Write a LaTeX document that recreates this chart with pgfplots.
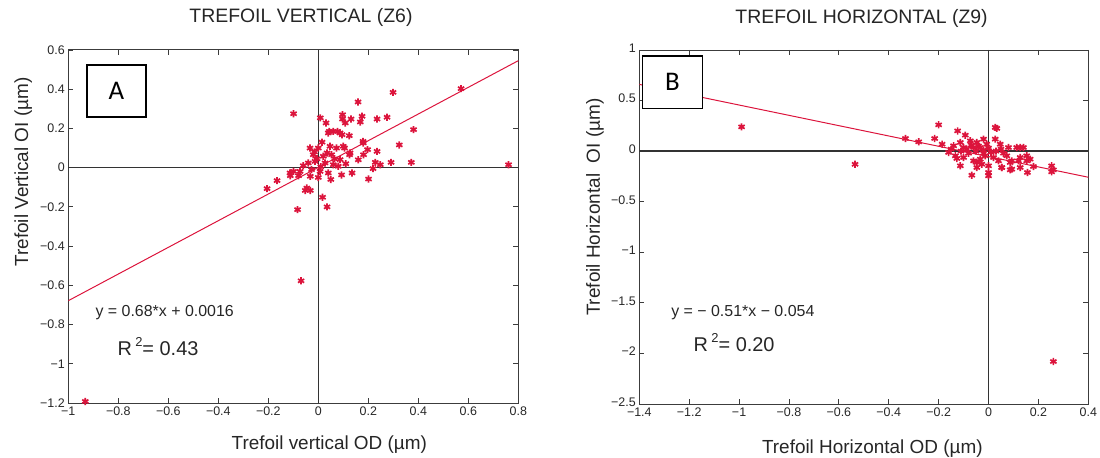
\documentclass[border=0pt]{standalone}
\usepackage{fontspec}
\setmainfont{Liberation Sans}
\newfontfamily\carlito{Carlito}
\usepackage{pgfplots}
\pgfplotsset{compat=1.18}
\definecolor{ptred}{RGB}{220,20,60}
\definecolor{axgray}{RGB}{60,60,60}
\pgfplotsset{
  mystyle/.style={
    scale only axis,
    axis line style={axgray, line width=1pt},
    tick align=inside,
    major tick length=5bp,
    tick style={axgray, line width=0.8pt},
    tick pos=both,
    ticklabel style={font=\fontsize{12.5}{12.5}\selectfont, text=black!85},
    label style={font=\fontsize{19}{19}\selectfont, text=black!85},
    title style={font=\fontsize{19.5}{19.5}\selectfont, text=black!85, yshift=0pt, anchor=center},
    /pgf/number format/assume math mode=true,
    clip=true,
  },
  scat/.style={only marks, mark=asterisk, mark size=3.6bp, ptred, line width=1.7pt},
  zero/.style={black!80, line width=1.4pt, forget plot},
  reg/.style={ptred, line width=1pt, no marks},
}
\begin{document}
\begin{tikzpicture}
\useasboundingbox (0,0) rectangle (1100bp,458bp);
% ---------------- Panel A ----------------
\begin{axis}[mystyle,
  at={(68.3bp,55bp)}, anchor=south west,
  width=450bp, height=353bp,
  xmin=-1, xmax=0.8, ymin=-1.2, ymax=0.6,
  xtick={-1,-0.8,-0.6,-0.4,-0.2,0,0.2,0.4,0.6,0.8},
  xticklabels={−1,−0.8,−0.6,−0.4,−0.2,0,0.2,0.4,0.6,0.8},
  ytick={-1.2,-1,-0.8,-0.6,-0.4,-0.2,0,0.2,0.4,0.6},
  yticklabels={−1.2,−1,−0.8,−0.6,−0.4,−0.2,0,0.2,0.4,0.6},
  title={TREFOIL VERTICAL (Z6)},
  title style={at={(axis description cs:0.517,1.074)}},
  xlabel={Trefoil vertical OD (\textmu m)},
  xlabel style={at={(axis description cs:0.58,-0.119)}, anchor=center},
  ylabel={Trefoil Vertical OI (\textmu m)},
  ylabel style={at={(axis description cs:-0.1,0.654)}, anchor=center, rotate=0},
]
\addplot[zero] coordinates {(-1,0) (0.8,0)};
\addplot[zero] coordinates {(0,-1.2) (0,0.6)};
\addplot[reg] coordinates {(-1,-0.6784) (0.8,0.5456)};
\addplot[scat] table {
x y
-0.099 0.275
0.299 0.384
0.571 0.403
0.159 0.335
0.008 0.254
0.031 0.228
0.097 0.270
0.097 0.248
0.108 0.228
0.131 0.248
0.175 0.262
0.168 0.233
0.235 0.248
0.275 0.257
0.044 0.185
0.077 0.185
0.095 0.168
0.124 0.163
0.381 0.194
0.179 0.134
0.324 0.116
0.197 0.092
0.235 0.083
0.181 0.066
0.125 0.066
0.105 0.100
0.228 0.027
0.248 0.015
0.291 0.027
0.372 0.027
0.761 0.015
0.219 -0.005
0.201 -0.058
-0.099 -0.019
-0.079 -0.041
-0.112 -0.041
-0.165 -0.066
-0.205 -0.107
-0.052 -0.116
-0.032 -0.116
0.017 -0.151
0.035 -0.200
-0.083 -0.214
-0.032 -0.044
0.000 -0.050
-0.932 -1.192
-0.069 -0.577
0.040 0.177
0.060 0.185
0.087 0.177
0.180 0.126
-0.033 0.100
0.000 0.100
0.047 0.109
0.073 0.100
0.100 0.109
-0.020 0.066
0.020 0.058
0.053 0.066
0.087 0.041
0.127 0.075
-0.040 0.024
-0.013 0.032
0.027 0.024
0.060 0.015
0.080 0.007
-0.027 -0.010
0.007 -0.019
0.040 -0.027
0.093 -0.037
0.135 -0.027
-0.073 -0.019
-0.113 -0.027
-0.046 -0.104
0.010 0.005
-0.005 0.045
0.035 0.075
0.065 0.045
0.110 0.020
-0.015 0.080
0.015 0.130
0.160 0.040
-0.060 0.010
0.050 -0.060
};
\node[anchor=west, font=\fontsize{16}{16}\selectfont, text=black!85] at (axis cs:-0.905,-0.741) {y = 0.68*x + 0.0016};
\node[anchor=west, font=\fontsize{20}{20}\selectfont, text=black!85] at (axis cs:-0.817,-0.912) {R\,\raisebox{0.45em}{\fontsize{13}{13}\selectfont 2}= 0.43};
\node[draw=black, line width=1.3pt, fill=white, minimum width=59bp, minimum height=52bp, inner sep=0pt, font=\carlito\fontsize{27}{27}\selectfont] at (axis description cs:0.107,0.884) {A};
\end{axis}
% ---------------- Panel B ----------------
\begin{axis}[mystyle,
  at={(639.3bp,54bp)}, anchor=south west,
  width=449bp, height=354bp,
  xmin=-1.4, xmax=0.4, ymin=-2.5, ymax=1,
  xtick={-1.4,-1.2,-1,-0.8,-0.6,-0.4,-0.2,0,0.2,0.4},
  xticklabels={−1.4,−1.2,−1,−0.8,−0.6,−0.4,−0.2,0,0.2,0.4},
  ytick={-2.5,-2,-1.5,-1,-0.5,0,0.5,1},
  yticklabels={−2.5,−2,−1.5,−1,−0.5,0,0.5,1},
  title={TREFOIL HORIZONTAL (Z9)},
  title style={at={(axis description cs:0.495,1.073)}},
  xlabel={Trefoil Horizontal OD (\textmu m)},
  xlabel style={at={(axis description cs:0.519,-0.125)}, anchor=center},
  ylabel={Trefoil Horizontal\ \ OI (\textmu m)},
  ylabel style={at={(axis description cs:-0.099,0.556)}, anchor=center, rotate=0},
  yticklabel style={yshift=2bp},
]
\addplot[zero] coordinates {(-1.4,0) (0.4,0)};
\addplot[zero] coordinates {(0,-2.5) (0,1)};
\addplot[reg] coordinates {(-1.4,0.660) (0.4,-0.258)};
\addplot[scat] table {
x y
-0.990 0.240
-0.535 -0.130
0.260 -2.080
-0.333 0.125
-0.280 0.092
-0.216 0.125
-0.200 0.260
-0.124 0.200
-0.093 0.158
-0.186 0.069
0.027 0.235
0.033 0.225
0.127 0.036
0.153 -0.046
0.167 -0.079
0.087 -0.112
0.120 -0.096
0.180 -0.152
0.253 -0.145
0.260 -0.185
0.253 -0.205
0.156 -0.211
0.087 -0.185
0.053 -0.162
0.000 -0.244
0.000 -0.211
-0.067 -0.238
-0.113 -0.145
-0.127 -0.073
-0.027 -0.129
-0.047 -0.112
-0.160 -0.013
-0.113 0.086
-0.140 0.053
-0.073 0.102
-0.047 0.086
-0.020 0.119
-0.007 0.069
-0.033 0.036
-0.060 0.036
-0.087 0.020
-0.100 0.036
0.027 0.119
0.047 0.069
0.080 0.036
0.113 0.036
0.140 0.036
-0.133 -0.046
-0.100 -0.063
-0.060 -0.096
-0.033 -0.079
-0.013 -0.046
0.020 -0.063
0.040 -0.096
0.073 -0.046
0.093 -0.096
0.127 -0.063
0.153 -0.096
-0.047 -0.162
0.000 -0.145
0.053 -0.162
0.093 -0.178
0.127 -0.162
-0.050 0.000
-0.020 0.010
0.010 -0.010
0.030 0.000
-0.080 -0.020
0.060 -0.020
-0.110 0.000
-0.040 0.050
0.000 0.030
-0.020 -0.020
0.050 0.020
-0.150 0.020
-0.070 0.060
};
\node[anchor=west, font=\fontsize{16}{16}\selectfont, text=black!85] at (axis cs:-1.286,-1.597) {y = − 0.51*x − 0.054};
\node[anchor=west, font=\fontsize{20}{20}\selectfont, text=black!85] at (axis cs:-1.196,-1.894) {R\,\raisebox{0.45em}{\fontsize{13}{13}\selectfont 2}= 0.20};
\node[draw=black, line width=1.3pt, fill=white, minimum width=60bp, minimum height=52.7bp, inner sep=0pt, font=\carlito\fontsize{27}{27}\selectfont] at (axis description cs:0.074,0.909) {B};
\end{axis}
\end{tikzpicture}
\end{document}
